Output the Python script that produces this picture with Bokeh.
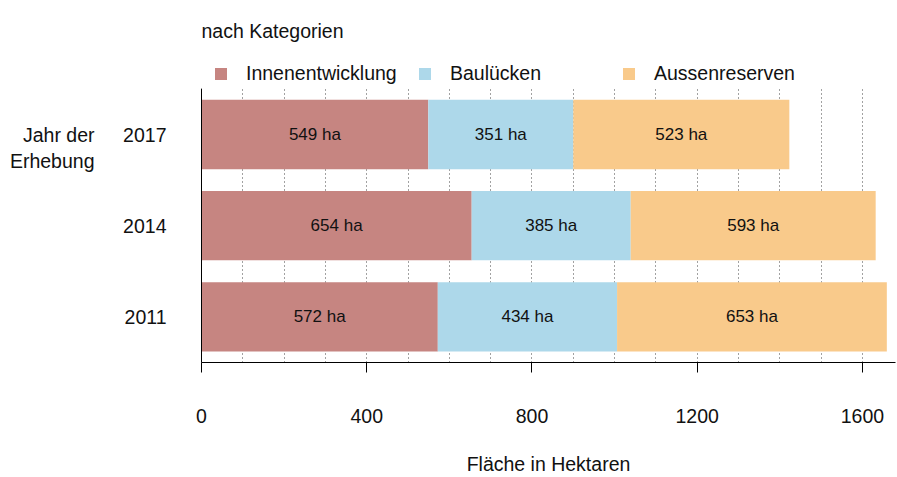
from bokeh.plotting import figure
from bokeh.models import (Range1d, FixedTicker, Legend, LegendItem, LinearAxis,
                          BoxAnnotation, ColumnDataSource)
from bokeh.core.properties import value
from bokeh.embed import file_html
from bokeh.resources import INLINE

years = ["2011", "2014", "2017"]
innenentwicklung = [572, 654, 549]
bauluecken = [434, 385, 351]
aussenreserven = [653, 593, 523]
categories = ["Innenentwicklung", "Baulücken", "Aussenreserven"]
colors = ["#C68581", "#ADD8EA", "#F9CA8B"]
x_ticks = [0, 400, 800, 1200, 1600]
grid_ticks = list(range(100, 1700, 100))
y_title = "Jahr der\nErhebung"

FONT = "Liberation Sans"

ypos = [i + 0.5 for i in range(len(years))]
src = ColumnDataSource(dict(ypos=ypos, innen=innenentwicklung, bau=bauluecken, aussen=aussenreserven))

p = figure(width=897, height=477, y_range=Range1d(0, 3.3226), x_range=Range1d(0, 1680),
           output_backend="svg", toolbar_location=None,
           min_border_left=201, min_border_right=2, min_border_top=55, min_border_bottom=113)

rs = p.hbar_stack(["innen", "bau", "aussen"], y="ypos", height=0.76, color=colors,
                  line_color=None, source=src)

# labels in segments
series = [innenentwicklung, bauluecken, aussenreserven]
lx, ly, lt = [], [], []
for i, y in enumerate(ypos):
    left = 0
    for s in series:
        v = s[i]
        lx.append(left + v / 2)
        ly.append(y)
        lt.append(f"{v} ha")
        left += v
p.text(x=lx, y=ly, text=lt, text_align="center", text_baseline="middle",
       text_font=value(FONT), text_font_size="17px", text_color="#111111")

# blank band above the bars (hides grid lines behind the legend row)
p.add_layout(BoxAnnotation(bottom=3, fill_color="white", fill_alpha=1, line_color=None))

legend = Legend(items=[LegendItem(label=c, renderers=[r]) for c, r in zip(categories, rs)],
                orientation="horizontal", location=(12, 277), label_width=164,
                glyph_width=15, glyph_height=15, label_standoff=18, spacing=7,
                padding=5, margin=0, border_line_color=None, background_fill_alpha=0,
                label_text_font=FONT, label_text_font_size="19.5px", label_text_color="#111111")
p.add_layout(legend, "center")

p.title.text = "nach Kategorien"
p.title.text_font = FONT
p.title.text_font_size = "19.5px"
p.title.text_font_style = "normal"
p.title.text_color = "#111111"
p.title.standoff = 35

p.xaxis.ticker = FixedTicker(ticks=x_ticks, minor_ticks=[])
p.xaxis.major_tick_out = 10
p.xaxis.major_tick_in = 0
p.xaxis.minor_tick_line_color = None
p.xaxis.major_label_standoff = 36
p.xaxis.axis_label = "Fläche in Hektaren"
p.xaxis.axis_label_standoff = 27
p.xaxis.axis_label_text_font_style = "normal"

p.yaxis.ticker = FixedTicker(ticks=ypos, minor_ticks=[])
p.yaxis.major_label_overrides = {y: lab for y, lab in zip(ypos, years)}
p.yaxis.major_tick_line_color = None
p.yaxis.minor_tick_line_color = None
p.yaxis.major_label_standoff = 29
p.yaxis.bounds = (0, 3)

# outer left axis carrying the y title at the level of 2017
title_pos = 2.355
lbl_axis = LinearAxis(ticker=FixedTicker(ticks=[title_pos], minor_ticks=[]),
                      major_label_overrides={title_pos: y_title},
                      axis_line_color=None, major_tick_line_color=None,
                      minor_tick_line_color=None, major_label_standoff=20)
p.add_layout(lbl_axis, "left")

for ax in (p.xaxis[0], p.yaxis[0], lbl_axis):
    ax.major_label_text_font = FONT
    ax.major_label_text_font_size = "19.5px"
    ax.major_label_text_color = "#111111"
    ax.axis_label_text_font = FONT
    ax.axis_label_text_font_size = "19.5px"
    ax.axis_label_text_color = "#111111"
p.xaxis[0].axis_line_color = "black"
p.yaxis[0].axis_line_color = "black"

p.xgrid.ticker = FixedTicker(ticks=grid_ticks)
p.xgrid.grid_line_color = "#444444"
p.xgrid.grid_line_dash = "1 3"
p.ygrid.grid_line_color = None
p.outline_line_color = None

open("out.html", "w").write(file_html(p, INLINE))
